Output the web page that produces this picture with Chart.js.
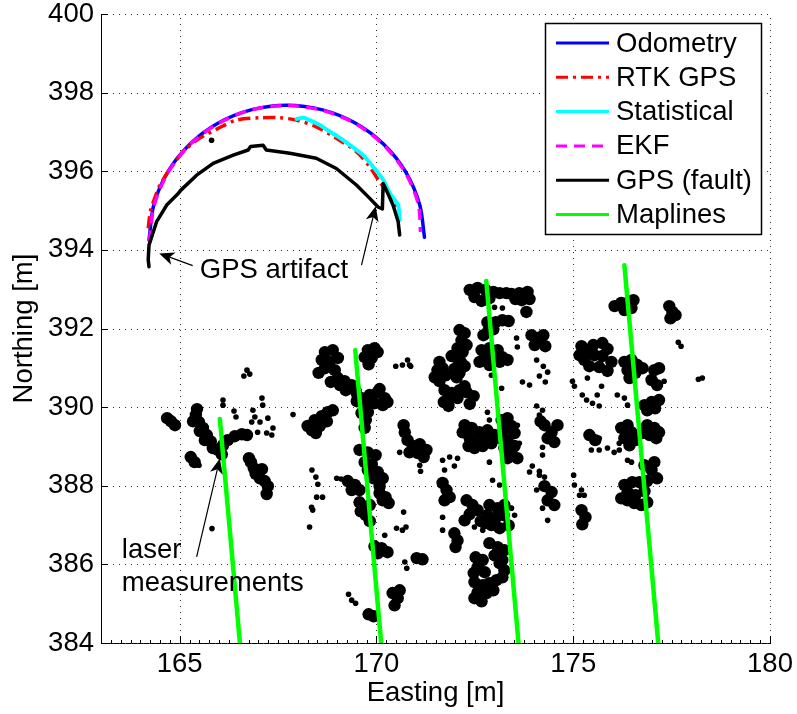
<!DOCTYPE html>
<html><head><meta charset="utf-8">
<script src="https://cdn.jsdelivr.net/npm/chart.js@4/dist/chart.umd.min.js"></script>
<style>html,body{margin:0;padding:0;background:#fff;}#wrap{width:797px;height:714px;}</style>
</head><body><div id="wrap"><canvas id="c" width="797" height="714"></canvas></div>
<script>
// ---------- DATA ----------
const xTickValues = [165, 170, 175, 180];
const yTickValues = [384, 386, 388, 390, 392, 394, 396, 398, 400];
const legendLabels = ['Odometry', 'RTK GPS', 'Statistical', 'EKF', 'GPS (fault)', 'Maplines'];

const odometry = [[164.22,394.25],[164.34,395.14],[164.69,395.97],[165.25,396.68],[165.97,397.22],[166.81,397.56],[167.72,397.68],[168.63,397.56],[169.47,397.22],[170.19,396.68],[170.75,395.97],[171.10,395.14],[171.22,394.32]];
const ekf = [[164.23,394.22],[164.35,395.13],[164.70,395.96],[165.25,396.67],[165.97,397.21],[166.81,397.56],[167.72,397.67],[168.63,397.55],[169.47,397.21],[170.18,396.67],[170.73,395.97],[171.06,395.18],[171.12,394.46]];
const rtkGps = [[164.20,394.55],[164.25,394.95],[164.33,395.22],[164.50,395.65],[164.75,396.05],[165.05,396.45],[165.43,396.79],[165.98,397.09],[166.44,397.30],[167.04,397.36],[167.54,397.36],[167.97,397.30],[168.47,397.13],[168.98,396.84],[169.49,396.50],[169.83,396.11],[170.08,395.73],[170.34,395.39],[170.46,395.14],[170.50,395.01]];
const statistical = [[167.97,397.33],[168.15,397.36],[168.30,397.30],[168.55,397.18],[168.81,397.01],[169.05,396.86],[169.32,396.67],[169.66,396.41],[169.95,396.07],[170.17,395.78],[170.34,395.44],[170.55,395.14],[170.59,394.76]];
const gpsFault = [[164.22,393.57],[164.20,393.75],[164.22,394.12],[164.41,394.71],[164.67,395.14],[164.95,395.42],[165.03,395.52],[165.43,395.90],[165.85,396.20],[166.36,396.41],[166.74,396.54],[166.80,396.63],[167.12,396.66],[167.20,396.54],[167.80,396.46],[168.47,396.33],[168.98,396.07],[169.49,395.65],[169.83,395.31],[170.04,395.09],[170.15,395.04],[170.17,395.69],[170.25,395.52],[170.42,395.14],[170.55,394.72],[170.59,394.38]];
const mapline1 = [[166.02,389.70],[166.53,384.00]];
const mapline2 = [[169.46,391.45],[170.12,384.00]];
const mapline3 = [[172.79,393.21],[173.61,384.00]];
const mapline4 = [[176.30,393.61],[177.16,384.00]];

const laserBlobs = [
[164.68,389.72],[164.78,389.64],[164.88,389.54],
[165.41,389.80],[165.49,389.62],[165.59,389.47],[165.69,389.29],[165.79,389.13],[165.34,389.64],[165.51,389.39],[165.64,389.16],[165.44,389.95],
[165.97,388.91],[166.10,389.03],[166.22,389.16],[166.40,389.26],[166.58,389.31],[166.71,389.29],[166.07,388.80],[165.84,388.96],
[165.28,388.73],[165.38,388.60],
[166.81,388.60],[166.88,388.45],[166.93,388.30],[167.04,388.19],[167.16,388.12],[167.09,388.42],[167.24,387.99],[167.21,387.79],[166.76,388.70],
[168.25,389.52],[168.43,389.67],[168.61,389.77],[168.76,389.87],[168.89,389.92],[168.36,389.41],[168.56,389.52],[168.74,389.64],[168.46,389.34],
[168.69,391.40],[168.89,391.45],[168.61,391.20],[168.81,391.15],[169.02,391.25],[168.69,390.99],[168.94,390.94],[168.53,390.87],[169.02,390.74],[169.19,390.66],[169.37,390.56],[169.47,390.41],[169.22,390.43],[169.07,390.56],[169.52,390.28],[168.84,390.64],
[169.78,391.45],[169.95,391.50],[169.70,391.27],[169.88,391.25],[170.03,391.40],[169.80,391.09],
[169.62,390.23],[169.83,390.31],[170.03,390.38],[170.21,390.23],[170.16,390.05],[169.95,390.10],[169.73,390.05],[169.50,390.15],[170.08,390.46],[169.78,389.87],[169.73,389.67],[169.70,389.47],[169.62,389.85],[170.28,390.13],
[170.69,389.54],[170.72,389.36],[170.79,389.16],[170.92,389.01],[171.10,389.06],[171.27,388.91],[171.05,388.83],[171.20,388.73],[170.84,388.85],
[169.57,388.91],[169.78,388.85],[169.98,388.78],
[169.70,388.60],[169.88,388.55],[169.78,388.40],[170.03,388.35],[170.16,388.19],[170.08,387.99],[169.93,388.19],
[169.27,388.12],[169.45,388.02],[169.57,387.89],[169.37,387.89],
[169.57,387.58],[169.70,387.43],[169.83,387.51],[169.73,387.25],[169.83,387.10],[169.60,387.35],
[170.08,387.81],[170.23,387.71],[170.31,387.56],[170.16,387.63],
[169.95,386.46],[170.13,386.41],[170.28,386.31],[170.03,386.28],
[171.02,386.16],[171.17,386.13],
[170.41,385.27],[170.54,385.14],[170.46,384.96],[170.59,385.34],
[169.80,384.73],[169.93,384.68],
[172.37,392.98],[172.57,393.03],[172.77,392.98],[172.97,392.93],[173.13,392.90],[172.49,392.80],[172.87,392.77],[172.67,392.70],[173.30,392.90],
[173.43,392.88],[173.63,392.90],[173.84,392.93],[173.89,392.75],[173.69,392.72],[173.53,392.75],
[173.81,392.42],
[172.82,392.16],[173.03,392.16],[173.20,392.21],[173.36,392.19],[172.85,391.96],[172.72,391.83],[172.97,391.98],
[172.67,391.45],[172.87,391.50],[173.08,391.45],[172.75,391.25],[172.97,391.27],[173.20,391.27],[172.62,391.15],[172.87,391.07],[173.13,391.15],[173.33,391.20],
[172.11,391.96],[172.24,391.88],[172.16,391.70],[172.29,391.58],[172.06,391.50],[172.19,391.40],[172.01,391.27],[172.14,391.15],[171.98,390.97],[172.11,390.87],[172.24,391.04],[172.04,390.76],[171.91,391.30],
[171.60,391.15],[171.55,390.94],[171.68,390.99],[171.48,390.76],[171.60,390.66],[171.76,390.81],
[171.73,390.43],[171.91,390.36],[172.11,390.43],[172.29,390.38],[172.47,390.28],[171.86,390.23],[172.06,390.23],[171.71,390.13],[172.24,390.53],[171.83,390.03],[172.37,390.08],
[173.94,391.83],[174.09,391.76],[174.24,391.83],[174.02,391.58],[174.29,391.55],
[172.24,389.54],[172.42,389.47],[172.62,389.36],[172.82,389.41],[173.00,389.29],[172.37,389.21],[172.57,389.16],[172.77,389.16],[172.19,389.36],[172.49,388.96],[172.70,389.01],[172.34,389.01],[172.92,389.08],
[173.18,389.67],[173.33,389.72],[173.43,389.52],[173.23,389.41],[173.51,389.34],[173.13,389.21],[173.33,389.16],[173.51,389.01],[173.25,388.96],[173.43,388.83],[173.58,388.70],[173.33,388.70],
[172.29,387.63],[172.44,387.51],[172.57,387.38],[172.37,387.28],[172.65,387.10],[172.24,387.12],
[172.87,387.51],[173.08,387.43],[173.25,387.51],[172.82,387.25],[173.03,387.18],[173.23,387.25],[172.92,387.00],[173.13,386.92],[172.75,387.05],[173.36,386.99],
[172.87,386.54],[173.08,386.44],[173.25,386.36],[173.00,386.23],[173.20,386.11],
[172.52,386.18],[172.70,386.11],[172.57,385.93],[172.75,385.80],[172.47,385.78],
[173.13,386.03],[173.25,385.85],[173.20,385.67],
[172.49,385.55],[172.70,385.47],[172.87,385.52],[173.05,385.60],[172.57,385.29],[172.80,385.27],[172.97,385.34],[172.49,385.14],[172.67,385.06],
[171.68,388.07],[171.78,387.89],[171.86,387.71],[171.73,387.63],
[171.98,386.79],[172.06,386.61],[172.01,386.44],
[174.27,389.54],[174.45,389.36],[174.60,389.54],[174.35,389.21],[174.52,389.11],[174.17,389.64],
[174.27,387.99],[174.45,387.84],[174.35,387.63],[174.52,387.51],
[175.21,387.38],[175.31,387.20],[175.23,387.02],
[176.05,392.57],[176.22,392.65],[176.38,392.65],[176.53,392.72],[176.30,392.47],[176.48,392.52],
[177.44,392.57],[177.52,392.42],[177.47,392.26],[177.60,392.34],
[175.16,391.32],[175.34,391.45],[175.51,391.58],[175.74,391.63],[175.87,391.48],[175.28,391.20],[175.54,391.32],[175.74,391.30],[175.97,391.15],[175.41,391.04],[175.66,391.02],[175.87,390.92],[175.21,391.55],
[176.30,391.15],[176.48,391.20],[176.63,391.07],[176.38,390.94],[176.58,390.87],[176.43,390.74],[176.76,390.99],
[177.06,390.94],[177.18,390.99],[176.99,390.69],[177.13,390.56],
[176.81,390.05],[176.99,390.13],[177.18,390.18],[176.88,389.92],[177.08,389.97],
[176.22,389.47],[176.38,389.54],[176.48,389.36],[176.30,389.21],[176.58,389.16],[176.43,389.03],
[176.88,389.54],[177.06,389.47],[177.18,389.36],[176.94,389.29],[177.11,389.21],[176.76,389.34],
[175.41,389.29],[175.56,389.16],
[176.81,388.52],[176.99,388.40],[177.06,388.60],[176.88,388.12],[177.13,388.19],
[176.30,388.02],[176.50,388.09],[176.68,388.09],[176.38,387.84],[176.58,387.76],[176.81,387.86],[176.22,387.68],
[176.38,387.63],[176.55,387.56],[176.73,387.51],[176.88,387.58]
];

const laserDots = [
[166.71,390.94],[166.78,390.84],[166.63,390.79],
[166.43,389.75],[166.38,389.90],[166.10,390.18],[166.10,390.05],
[166.86,389.92],[166.91,389.75],[166.83,389.62],[167.09,390.23],[167.11,390.05],[167.04,389.62],[167.21,389.34],[167.37,389.47],[167.34,389.29],[166.98,389.36],[167.24,389.72],
[167.88,389.81],[165.49,388.52],
[168.36,388.40],[168.46,388.22],[168.51,388.04],[168.48,387.71],[168.63,387.71],
[168.38,387.38],[168.30,386.95],[168.35,387.45],
[165.82,386.91],
[170.49,391.04],[170.66,391.07],[170.79,391.20],[170.87,391.04],
[171.10,388.52],[171.12,388.37],[170.59,388.85],
[168.99,388.19],[169.10,388.17],
[170.69,387.33],[170.51,386.92],[170.66,386.87],[170.75,386.95],[170.21,386.74],
[170.72,386.06],[170.77,385.90],
[169.29,385.24],[169.37,385.09],[169.47,385.01],
[173.00,392.54],[173.20,392.52],
[170.84,391.07],
[173.56,391.76],[173.58,391.53],
[174.07,391.20],[174.24,391.04],[174.35,390.89],[174.14,390.79],[174.29,390.64],
[173.71,390.64],[173.89,390.56],[172.92,390.81],[173.18,390.48],[174.07,390.03],
[172.82,389.87],[172.87,389.67],[172.87,388.60],[173.58,389.54],[173.63,389.08],
[171.68,388.65],[171.73,388.40],[171.86,388.73],[171.98,388.50],[172.06,388.70],
[172.95,388.14],[173.13,388.02],
[173.43,387.43],[173.51,387.25],
[171.68,387.20],[171.68,386.87],
[172.49,386.95],[172.70,386.87],
[173.89,388.35],[174.14,388.27],
[174.22,389.92],[174.14,389.80],
[174.22,388.98],[174.22,388.78],
[173.96,388.50],[174.14,388.37],[174.27,388.22],
[174.22,387.43],[174.35,387.12],[174.07,387.89],
[175.01,388.27],[175.21,387.89],[175.28,387.76],
[177.67,391.65],[177.74,391.55],
[177.31,390.66],[178.18,390.71],[178.28,390.74],
[174.98,390.66],[175.03,390.53],[175.23,390.31],[175.34,390.18],[175.49,390.10],[175.66,390.03],[175.72,390.53],[175.61,390.31],[175.36,390.74],
[176.12,390.31],[176.30,390.23],[176.38,390.05],
[175.66,389.21],
[175.46,388.91],[175.66,388.91],[175.87,388.96],[176.04,388.85],[176.17,388.91],
[176.17,389.08],[176.38,388.65],[176.48,388.60],
[175.03,388.02],[175.16,387.76],
[165.81,396.79]
];

// annotation anchors (data units)
const annotationTexts = [
  {text: 'GPS artifact', x: 165.51, y: 393.28},
  {text: 'laser', x: 163.53, y: 386.17},
  {text: 'measurements', x: 163.53, y: 385.33}
];
const annotationArrows = [
  {from: [165.33, 393.60], to: [164.48, 393.91]},
  {from: [169.62, 393.61], to: [169.98, 395.11]},
  {from: [165.43, 386.19], to: [166.02, 388.69]}
];

// ---------- CHART ----------
const FONT = '"Liberation Sans", Arial, Helvetica, sans-serif';
const FS = 27.5;
Chart.defaults.font.family = FONT;
Chart.defaults.color = '#000';
const toXY = a => a.map(p => ({x: p[0], y: p[1]}));

const lineDs = (label, data, color, width, dash, order, tension) => ({
  label, data: toXY(data), showLine: true, borderColor: color, backgroundColor: color,
  borderWidth: width, borderDash: dash || [], pointRadius: 0, order, tension: tension || 0,
  borderCapStyle: dash ? 'butt' : 'round', borderJoinStyle: 'round', fill: false
});

const datasets = [
  lineDs('Maplines', mapline1, '#00ff00', 4.5, null, 0),
  lineDs('Maplines', mapline2, '#00ff00', 4.5, null, 0),
  lineDs('Maplines', mapline3, '#00ff00', 4.5, null, 0),
  lineDs('Maplines', mapline4, '#00ff00', 4.5, null, 0),
  lineDs('GPS (fault)', gpsFault, '#000000', 3.5, null, 1, 0),
  lineDs('EKF', ekf, '#ff00ff', 3.5, [11, 7], 2, 0.3),
  lineDs('Statistical', statistical, '#00ffff', 4, null, 3, 0.2),
  lineDs('RTK GPS', rtkGps, '#ff0000', 3.5, [12, 5, 3, 5], 4, 0.3),
  lineDs('Odometry', odometry, '#0000ff', 3.5, null, 5, 0.3),
  {label: 'laser', data: toXY(laserBlobs), showLine: false, pointRadius: 6.2, pointBackgroundColor: '#000', pointBorderWidth: 0, order: 6},
  {label: 'laser dots', data: toXY(laserDots), showLine: false, pointRadius: 2.8, pointBackgroundColor: '#000', pointBorderWidth: 0, order: 6}
];

const px = (chart, v) => chart.scales.x.getPixelForValue(v);
const py = (chart, v) => chart.scales.y.getPixelForValue(v);

const gridPlugin = {
  id: 'gridTicks',
  beforeDatasetsDraw(chart) {
    const {ctx, chartArea: a} = chart;
    ctx.save();
    ctx.strokeStyle = '#333';
    ctx.lineWidth = 1;
    ctx.setLineDash([1, 5]);
    xTickValues.forEach(v => { const x = Math.round(px(chart, v)) + 0.5; ctx.beginPath(); ctx.moveTo(x, a.bottom); ctx.lineTo(x, a.top); ctx.stroke(); });
    yTickValues.forEach(v => { const y = Math.round(py(chart, v)) + 0.5; ctx.beginPath(); ctx.moveTo(a.left, y); ctx.lineTo(a.right, y); ctx.stroke(); });
    ctx.setLineDash([]);
    ctx.strokeStyle = '#000';
    xTickValues.forEach(v => { const x = Math.round(px(chart, v)) + 0.5; ctx.beginPath(); ctx.moveTo(x, a.bottom); ctx.lineTo(x, a.bottom - 7); ctx.stroke(); });
    yTickValues.forEach(v => { const y = Math.round(py(chart, v)) + 0.5; ctx.beginPath(); ctx.moveTo(a.left, y); ctx.lineTo(a.left + 7, y); ctx.stroke(); });
    const minX = chart.scales.x.min, maxX = chart.scales.x.max;
    for (let k = Math.ceil(minX * 4); k <= Math.floor(maxX * 4); k++) {
      const x = Math.round(px(chart, k / 4)) + 0.5;
      ctx.beginPath(); ctx.moveTo(x, a.bottom); ctx.lineTo(x, a.bottom - 3); ctx.stroke();
    }
    ctx.restore();
  }
};

function arrow(ctx, x1, y1, x2, y2) {
  const ang = Math.atan2(y2 - y1, x2 - x1);
  const L = 15, W = 6.5, N = 4;
  const c = Math.cos(ang), s = Math.sin(ang);
  const bx = x2 - L * c, by = y2 - L * s;
  const nx = x2 - (L - N) * c, ny = y2 - (L - N) * s;
  ctx.beginPath(); ctx.moveTo(x1, y1); ctx.lineTo(nx, ny); ctx.stroke();
  ctx.beginPath();
  ctx.moveTo(x2, y2);
  ctx.lineTo(bx - W * s, by + W * c);
  ctx.lineTo(nx, ny);
  ctx.lineTo(bx + W * s, by - W * c);
  ctx.closePath(); ctx.fill();
}

const annoPlugin = {
  id: 'anno',
  afterDatasetsDraw(chart) {
    const {ctx} = chart;
    ctx.save();
    ctx.fillStyle = '#000'; ctx.strokeStyle = '#000'; ctx.lineWidth = 1.2;
    ctx.font = FS + 'px ' + FONT;
    ctx.textBaseline = 'alphabetic'; ctx.textAlign = 'left';
    annotationTexts.forEach(t => ctx.fillText(t.text, px(chart, t.x), py(chart, t.y)));
    annotationArrows.forEach(a => arrow(ctx, px(chart, a.from[0]), py(chart, a.from[1]), px(chart, a.to[0]), py(chart, a.to[1])));
    ctx.restore();
  }
};

const legendPlugin = {
  id: 'customLegend',
  afterDraw(chart) {
    const {ctx, chartArea: a} = chart;
    const boxW = 216, boxH = 211;
    const x0 = a.right - 9 - boxW, y0 = a.top + 9;
    ctx.save();
    ctx.fillStyle = '#fff';
    ctx.fillRect(x0, y0, boxW, boxH);
    ctx.strokeStyle = '#000'; ctx.lineWidth = 1.5;
    ctx.strokeRect(x0 + 0.5, y0 + 0.5, boxW, boxH);
    ctx.font = FS + 'px ' + FONT;
    ctx.textBaseline = 'middle'; ctx.textAlign = 'left';
    legendLabels.forEach((lab, i) => {
      const ds = chart.data.datasets.find(d => d.label === lab);
      const yy = y0 + 20 + i * 34.3;
      ctx.strokeStyle = ds.borderColor; ctx.lineWidth = 3;
      ctx.setLineDash(ds.borderDash || []);
      ctx.beginPath(); ctx.moveTo(x0 + 11, yy); ctx.lineTo(x0 + 64, yy); ctx.stroke();
      ctx.setLineDash([]);
      ctx.fillStyle = '#000';
      ctx.fillText(lab, x0 + 71, yy + 1);
    });
    ctx.restore();
  }
};

new Chart(document.getElementById('c'), {
  type: 'scatter',
  data: {datasets},
  options: {
    responsive: false, animation: false, devicePixelRatio: 1, events: [],
    layout: {padding: {left: 0, top: 14, right: 27, bottom: 0}},
    plugins: {legend: {display: false}, tooltip: {enabled: false}},
    scales: {
      x: {
        type: 'linear', min: 163, max: 180,
        grid: {display: false, drawTicks: false},
        border: {display: true, color: '#000', width: 1},
        ticks: {font: {size: FS}, color: '#000', padding: 5, maxRotation: 0, autoSkip: false},
        title: {display: true, text: 'Easting [m]', font: {size: FS}, color: '#000', padding: {top: 0, bottom: 4}},
        afterBuildTicks: s => { s.ticks = xTickValues.map(v => ({value: v})); },
        afterFit: s => { s.height = 71; s.paddingLeft = 0; s.paddingRight = 0; }
      },
      y: {
        type: 'linear', min: 384, max: 400,
        grid: {display: false, drawTicks: false},
        border: {display: true, color: '#000', width: 1},
        ticks: {font: {size: FS}, color: '#000', padding: 7, autoSkip: false},
        title: {display: true, text: 'Northing [m]', font: {size: FS}, color: '#000', padding: {top: 8, bottom: 0}},
        afterBuildTicks: s => { s.ticks = yTickValues.map(v => ({value: v})); },
        afterFit: s => { s.width = 101; s.paddingTop = 0; s.paddingBottom = 0; }
      }
    }
  },
  plugins: [gridPlugin, annoPlugin, legendPlugin]
});
</script></body></html>
